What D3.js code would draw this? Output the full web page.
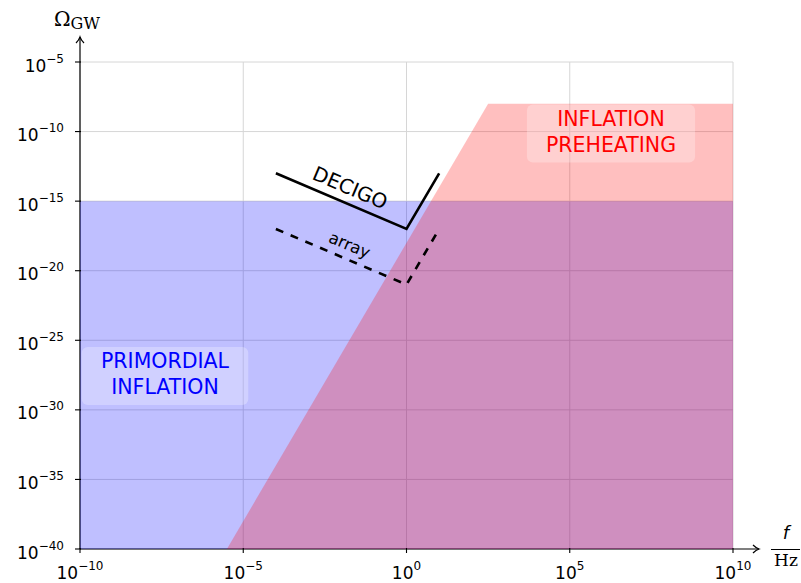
<!DOCTYPE html>
<html>
<head>
<meta charset="utf-8">
<script src="https://cdn.jsdelivr.net/npm/d3@7"></script>
<style>
  body { margin: 0; background: #fff; }
  text { font-family: "DejaVu Sans", sans-serif; }
</style>
</head>
<body>
<svg id="chart" width="801" height="583"></svg>
<script>
// Decade exponents used for ticks and grid
const xTickExps = [-10, -5, 0, 5, 10];
const yTickExps = [-40, -35, -30, -25, -20, -15, -10, -5];

// Regions as [frequency (Hz), Ω_GW] corners
const primordialRegion = [[1e-10, 1e-40], [1e-10, 1e-15], [1e10, 1e-15], [1e10, 1e-40]];
const preheatingRegion = [[Math.pow(10, -5.5), 1e-40], [Math.pow(10, 2.5), 1e-8], [1e10, 1e-8], [1e10, 1e-40]];

// Detector sensitivity curves as [frequency (Hz), Ω_GW]
const decigoCurve = [[1e-4, 1e-13], [1, 1e-17], [10, 1e-13]];
const arrayCurve  = [[1e-4, 1e-17], [1, 1e-21], [10, 1e-17]];

const regionNames = [["PRIMORDIAL", "INFLATION"], ["INFLATION", "PREHEATING"]];
const curveNames = ["DECIGO", "array"];

const svg = d3.select("#chart");
const plotLeft = 80, plotRight = 733, plotTop = 62, plotBottom = 549;

const x = d3.scaleLog().domain([1e-10, 1e10]).range([plotLeft, plotRight]);
const y = d3.scaleLog().domain([1e-40, 1e-5]).range([plotBottom, plotTop]);

const line = d3.line().x(d => x(d[0])).y(d => y(d[1]));

// grid
const grid = svg.append("g").attr("stroke", "#d6d6d6").attr("stroke-width", 1);
grid.selectAll("line.v").data(xTickExps).join("line")
  .attr("x1", e => x(Math.pow(10, e))).attr("x2", e => x(Math.pow(10, e)))
  .attr("y1", plotTop).attr("y2", plotBottom);
grid.selectAll("line.h").data(yTickExps).join("line")
  .attr("x1", plotLeft).attr("x2", plotRight)
  .attr("y1", e => y(Math.pow(10, e))).attr("y2", e => y(Math.pow(10, e)));

// axis lines with open arrow heads
const axes = svg.append("g").attr("stroke", "#000").attr("stroke-width", 1.2).attr("fill", "none");
axes.append("line").attr("x1", plotLeft).attr("y1", plotBottom).attr("x2", plotLeft).attr("y2", 37);
axes.append("path").attr("d", `M${plotLeft - 4},43 Q${plotLeft - 1},40 ${plotLeft},37 Q${plotLeft + 1},40 ${plotLeft + 4},43`);
axes.append("line").attr("x1", plotLeft).attr("y1", plotBottom).attr("x2", 759).attr("y2", plotBottom);
axes.append("path").attr("d", `M753,${plotBottom - 4} Q756,${plotBottom - 1} 759,${plotBottom} Q756,${plotBottom + 1} 753,${plotBottom + 4}`);

// filled regions
svg.append("path").datum(primordialRegion)
  .attr("d", d => line(d) + "Z")
  .attr("fill", "#0000ff").attr("fill-opacity", 0.25);
svg.append("path").datum(preheatingRegion)
  .attr("d", d => line(d) + "Z")
  .attr("fill", "#ff0000").attr("fill-opacity", 0.25);

// ticks
const ticks = svg.append("g").attr("stroke", "#000").attr("stroke-width", 1.1);
ticks.selectAll("line.x").data(xTickExps).join("line")
  .attr("x1", e => x(Math.pow(10, e))).attr("x2", e => x(Math.pow(10, e)))
  .attr("y1", plotBottom - 1).attr("y2", plotBottom + 4);
ticks.selectAll("line.y").data(yTickExps).join("line")
  .attr("x1", plotLeft - 5).attr("x2", plotLeft + 1)
  .attr("y1", e => y(Math.pow(10, e))).attr("y2", e => y(Math.pow(10, e)));

function expLabel(sel) {
  sel.text("10").append("tspan")
    .attr("dy", -9).attr("font-size", 12)
    .text(e => (e < 0 ? "\u2212" : "") + Math.abs(e));
}
svg.append("g").selectAll("text").data(xTickExps).join("text")
  .attr("x", e => x(Math.pow(10, e))).attr("y", 579)
  .attr("text-anchor", "middle").attr("font-size", 17).attr("fill", "#000")
  .call(expLabel);
svg.append("g").selectAll("text").data(yTickExps).join("text")
  .attr("x", 64).attr("y", e => y(Math.pow(10, e)) + 9.5)
  .attr("text-anchor", "end").attr("font-size", 17).attr("fill", "#000")
  .call(expLabel);

// axis titles
const omega = svg.append("text").attr("x", 54).attr("y", 26)
  .style("font-family", "'DejaVu Serif', serif").attr("font-size", 20);
omega.append("tspan").text("\u03A9");
omega.append("tspan").attr("dy", 3).attr("font-size", 16).text("GW");

svg.append("text").attr("x", 786).attr("y", 539).attr("text-anchor", "middle")
  .attr("font-size", 18).attr("font-style", "italic").text("f");
svg.append("line").attr("x1", 771).attr("x2", 800).attr("y1", 549.5).attr("y2", 549.5)
  .attr("stroke", "#000").attr("stroke-width", 1);
svg.append("text").attr("x", 786).attr("y", 566).attr("text-anchor", "middle")
  .style("font-family", "'DejaVu Serif', serif").attr("font-size", 17).text("Hz");

// detector curves
svg.append("path").datum(decigoCurve).attr("d", line)
  .attr("fill", "none").attr("stroke", "#000").attr("stroke-width", 2.6)
  .attr("stroke-linejoin", "miter");
svg.append("path").datum(arrayCurve).attr("d", line)
  .attr("fill", "none").attr("stroke", "#000").attr("stroke-width", 2.6)
  .attr("stroke-dasharray", "8,8");

// labels along the first leg of each curve
function curveLabel(curve, name, offset, size) {
  const x0 = x(curve[0][0]), y0 = y(curve[0][1]);
  const x1 = x(curve[1][0]), y1 = y(curve[1][1]);
  const len = Math.hypot(x1 - x0, y1 - y0);
  const ux = (x1 - x0) / len, uy = (y1 - y0) / len;
  const nx = uy, ny = -ux;
  const cx = (x0 + x1) / 2 + nx * offset, cy = (y0 + y1) / 2 + ny * offset;
  const ang = Math.atan2(y1 - y0, x1 - x0) * 180 / Math.PI;
  svg.append("text")
    .attr("transform", `translate(${cx + ux * 3},${cy + uy * 3}) rotate(${ang})`)
    .attr("text-anchor", "middle").attr("dy", "0.36em")
    .attr("font-size", size).attr("fill", "#000").text(name);
}
curveLabel(decigoCurve, curveNames[0], 16, 20);
curveLabel(arrayCurve, curveNames[1], 14.5, 16.5);

// region labels on translucent rounded boxes
function regionLabel(lines, cx, cy, color) {
  const g = svg.append("g");
  const rect = g.append("rect");
  const t = g.append("text").attr("text-anchor", "middle")
    .attr("font-size", 20.5).attr("fill", color);
  t.selectAll("tspan").data(lines).join("tspan")
    .attr("x", cx).attr("y", (d, i) => cy - 8 + i * 26).text(d => d);
  const bb = t.node().getBBox();
  const w = bb.width + 38, h = 58;
  rect.attr("x", cx - w / 2).attr("y", cy - h / 2).attr("width", w).attr("height", h)
    .attr("rx", 6).attr("fill", "#fff").attr("fill-opacity", 0.27);
}
regionLabel(regionNames[0], 165, 376, "#0000ff");
regionLabel(regionNames[1], 611, 133.5, "#ff0000");
</script>
</body>
</html>
